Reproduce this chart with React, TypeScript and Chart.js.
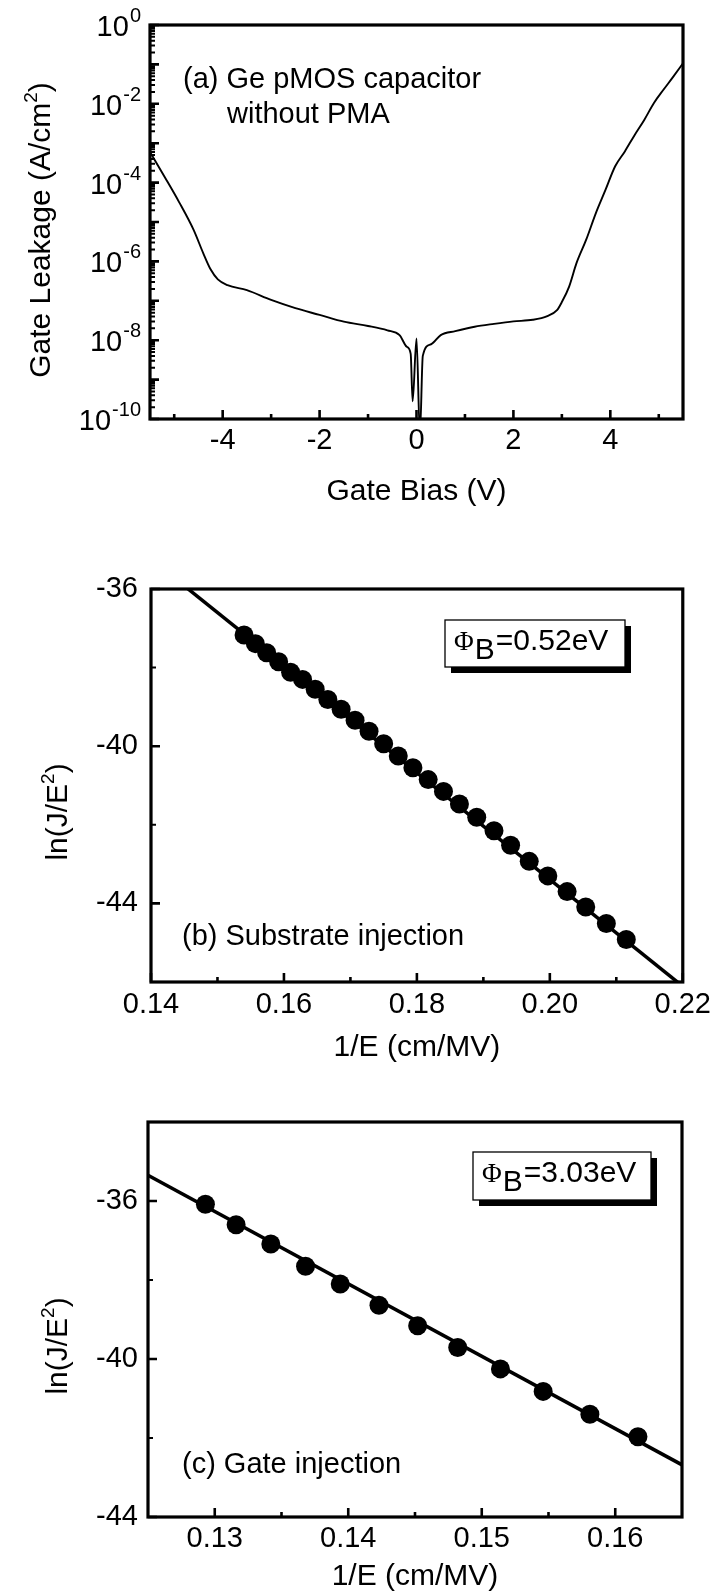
import React, { useEffect, useRef } from 'react';
import { Chart, registerables } from 'chart.js';

Chart.register(...registerables);

const FONT = "'Liberation Sans', Arial, Helvetica, sans-serif";
const SERIF = "'Liberation Serif', 'Times New Roman', serif";

// ---------- Panel (a): gate leakage vs gate bias ----------
const BIAS_V = [
  -5.5, -5.2, -4.9, -4.6, -4.4, -4.25, -4.1, -3.9, -3.5, -3.0, -2.5, -2.0, -1.5, -1.0, -0.6, -0.35,
  -0.2, -0.12, -0.08, 0.0, 0.07, 0.13, 0.3, 0.5, 0.8, 1.2, 1.6, 2.0, 2.4, 2.7, 2.9, 3.0, 3.15,
  3.3, 3.5, 3.7, 3.9, 4.1, 4.3, 4.5, 4.7, 4.9, 5.1, 5.3, 5.5,
];
const LEAKAGE = [
  6.0e-4, 1.41e-4, 3.2e-5, 6.3e-6, 1.6e-6, 6.3e-7, 3.5e-7, 2.5e-7, 1.86e-7, 1.05e-7, 6.5e-8, 4.4e-8,
  2.95e-8, 2.3e-8, 1.78e-8, 1.35e-8, 6.8e-9, 4.5e-9, 2.8e-10, 1.1e-8, 4.0e-11, 4.0e-9, 7.9e-9,
  1.35e-8, 1.7e-8, 2.2e-8, 2.6e-8, 3.0e-8, 3.3e-8, 4.1e-8, 5.8e-8, 9.3e-8, 2.3e-7, 8.9e-7, 3.5e-6,
  1.66e-5, 6.5e-5, 2.6e-4, 6.2e-4, 1.6e-3, 3.9e-3, 1.05e-2, 2.3e-2, 4.9e-2, 1.07e-1,
];
const BIAS_TICKS = [-4, -2, 0, 2, 4];
const BIAS_MINOR = [-5, -3, -1, 1, 3, 5];
const LEAK_DECADES = [-10, -9, -8, -7, -6, -5, -4, -3, -2, -1, 0];
const LEAK_LABEL_EXPS = [-10, -8, -6, -4, -2, 0];

// ---------- Panel (b): substrate injection ----------
const INV_E_SUB = [
  0.154, 0.1557, 0.1574, 0.1592, 0.161, 0.1628, 0.1647, 0.1666, 0.1686, 0.1707, 0.1728, 0.175,
  0.1772, 0.1794, 0.1817, 0.184, 0.1864, 0.189, 0.1916, 0.1941, 0.1969, 0.1997, 0.2026, 0.2054,
  0.2085, 0.2115,
];
const LN_JE2_SUB = [
  -37.17, -37.39, -37.62, -37.85, -38.12, -38.3, -38.55, -38.81, -39.06, -39.34, -39.62, -39.94,
  -40.25, -40.55, -40.85, -41.15, -41.47, -41.81, -42.15, -42.52, -42.93, -43.3, -43.7, -44.09,
  -44.51, -44.92,
];
const FIT_SUB_X = [0.14, 0.22];
const FIT_SUB_Y = [-35.24, -46.11];
const SUB_X_TICKS = [0.14, 0.16, 0.18, 0.2, 0.22];
const SUB_X_MINOR = [0.15, 0.17, 0.19, 0.21];
const SUB_Y_TICKS = [-44, -40, -36];
const SUB_Y_MINOR = [-42, -38];
const BARRIER_SUB = '=0.52eV';

// ---------- Panel (c): gate injection ----------
const INV_E_GATE = [0.1293, 0.1316, 0.1342, 0.1368, 0.1394, 0.1423, 0.1452, 0.1482, 0.1514, 0.1546, 0.1581, 0.1617];
const LN_JE2_GATE = [-36.08, -36.6, -37.09, -37.65, -38.1, -38.64, -39.16, -39.71, -40.25, -40.82, -41.4, -41.97];
const FIT_GATE_X = [0.125, 0.165];
const FIT_GATE_Y = [-35.35, -42.68];
const GATE_X_TICKS = [0.13, 0.14, 0.15, 0.16];
const GATE_X_MINOR = [0.135, 0.145, 0.155];
const GATE_Y_TICKS = [-44, -40, -36];
const GATE_Y_MINOR = [-42, -38];
const BARRIER_GATE = '=3.03eV';

type Seg = { t: string; s: number; dy?: number; f?: string };

function segWidth(ctx: CanvasRenderingContext2D, segs: Seg[]) {
  let w = 0;
  for (const sg of segs) {
    ctx.font = `${sg.s}px ${sg.f || FONT}`;
    w += ctx.measureText(sg.t).width;
  }
  return w;
}

function drawRich(ctx: CanvasRenderingContext2D, segs: Seg[], x: number, base: number, align: 'left' | 'center' | 'right') {
  const w = segWidth(ctx, segs);
  let cx = align === 'center' ? x - w / 2 : align === 'right' ? x - w : x;
  ctx.textAlign = 'left';
  ctx.textBaseline = 'alphabetic';
  for (const sg of segs) {
    ctx.font = `${sg.s}px ${sg.f || FONT}`;
    ctx.fillText(sg.t, cx, base + (sg.dy || 0));
    cx += ctx.measureText(sg.t).width;
  }
}

type Decor = {
  xMajor: number[];
  xMinor: number[];
  yMajor: number[];
  yMinor: number[];
  yExpLabels?: number[];
  yTitle: { segs: Seg[]; x: number; y: number };
  texts: { t: string; x: number; base: number; s: number }[];
  legend?: { x: number; y: number; w: number; h: number; text: string };
};

function makeDecor(cfg: Decor) {
  return {
    id: 'decor',
    afterDatasetsDraw(chart: any) {
      const { ctx, chartArea: a } = chart;
      const xs = chart.scales.x;
      const ys = chart.scales.y;
      ctx.save();
      ctx.strokeStyle = '#000';
      ctx.fillStyle = '#000';
      ctx.lineCap = 'butt';
      ctx.lineWidth = 2.6;
      const majorLen = 9;
      const minorLen = 5;
      ctx.beginPath();
      cfg.xMajor.forEach((v) => {
        const p = xs.getPixelForValue(v);
        ctx.moveTo(p, a.bottom);
        ctx.lineTo(p, a.bottom - majorLen);
      });
      cfg.xMinor.forEach((v) => {
        const p = xs.getPixelForValue(v);
        ctx.moveTo(p, a.bottom);
        ctx.lineTo(p, a.bottom - minorLen);
      });
      cfg.yMajor.forEach((v) => {
        const p = ys.getPixelForValue(v);
        ctx.moveTo(a.left, p);
        ctx.lineTo(a.left + majorLen, p);
      });
      ctx.stroke();
      ctx.lineWidth = 2;
      ctx.beginPath();
      cfg.yMinor.forEach((v) => {
        const p = ys.getPixelForValue(v);
        ctx.moveTo(a.left, p);
        ctx.lineTo(a.left + minorLen, p);
      });
      ctx.stroke();

      // frame
      ctx.lineWidth = 3.2;
      ctx.strokeRect(a.left, a.top, a.right - a.left, a.bottom - a.top);

      // exponent tick labels (log axis)
      if (cfg.yExpLabels) {
        cfg.yExpLabels.forEach((e) => {
          const p = ys.getPixelForValue(Math.pow(10, e));
          ctx.font = `20px ${FONT}`;
          const ew = ctx.measureText(String(e)).width;
          const right = 141;
          ctx.textAlign = 'left';
          ctx.textBaseline = 'alphabetic';
          ctx.fillText(String(e), right - ew, p - 3);
          ctx.font = `29px ${FONT}`;
          ctx.textAlign = 'right';
          ctx.fillText('10', right - ew - 1, p + 11);
        });
      }

      // y title (rotated)
      ctx.save();
      ctx.translate(cfg.yTitle.x, cfg.yTitle.y);
      ctx.rotate(-Math.PI / 2);
      drawRich(ctx, cfg.yTitle.segs, 0, 11, 'center');
      ctx.restore();

      // annotation texts
      cfg.texts.forEach((tx) => {
        drawRich(ctx, [{ t: tx.t, s: tx.s }], tx.x, tx.base, 'left');
      });

      // legend box with shadow
      if (cfg.legend) {
        const L = cfg.legend;
        ctx.fillStyle = '#000';
        ctx.fillRect(L.x + 6, L.y + 6, L.w, L.h);
        ctx.fillStyle = '#fff';
        ctx.fillRect(L.x, L.y, L.w, L.h);
        ctx.lineWidth = 1.3;
        ctx.strokeRect(L.x, L.y, L.w, L.h);
        ctx.fillStyle = '#000';
        const base = L.y + 30;
        let x = L.x + 9;
        ctx.textAlign = 'left';
        ctx.textBaseline = 'alphabetic';
        ctx.font = `27px ${SERIF}`;
        ctx.fillText('\u03A6', x, base);
        x += ctx.measureText('\u03A6').width + 1;
        ctx.font = `30px ${FONT}`;
        ctx.fillText('B', x, base + 9);
        x += ctx.measureText('B').width + 1;
        ctx.fillText(L.text, x, base);
      }
      ctx.restore();
    },
  };
}

function baseScale(extra: any) {
  return {
    display: true,
    grid: { display: false, drawTicks: false, tickLength: 0 },
    border: { display: false },
    ...extra,
  };
}

function xAxis(min: number, max: number, ticks: number[], fmt: (v: number) => string, height: number, pad: number, title: string, titlePad: number) {
  return baseScale({
    type: 'linear',
    position: 'bottom',
    min,
    max,
    afterBuildTicks: (s: any) => {
      s.ticks = ticks.map((v) => ({ value: v }));
    },
    afterFit: (s: any) => {
      s.height = height;
    },
    ticks: {
      autoSkip: false,
      maxRotation: 0,
      minRotation: 0,
      padding: pad,
      color: '#000',
      font: { size: 29, family: FONT },
      callback: (v: any) => fmt(Number(v)),
    },
    title: {
      display: true,
      text: title,
      color: '#000',
      font: { size: 30, family: FONT },
      padding: { top: 0, bottom: titlePad },
    },
  });
}

function linYAxis(min: number, max: number, ticks: number[], width: number, pad: number) {
  return baseScale({
    type: 'linear',
    position: 'left',
    min,
    max,
    afterBuildTicks: (s: any) => {
      s.ticks = ticks.map((v) => ({ value: v }));
    },
    afterFit: (s: any) => {
      s.width = width;
    },
    ticks: {
      autoSkip: false,
      padding: pad,
      color: '#000',
      font: { size: 29, family: FONT },
      callback: (v: any) => String(v),
    },
  });
}

const commonOptions = (padTop: number, padRight: number) => ({
  responsive: false,
  maintainAspectRatio: false,
  animation: false,
  devicePixelRatio: 1,
  layout: { padding: { left: 0, top: padTop, right: padRight, bottom: 0 } },
  plugins: { legend: { display: false }, tooltip: { enabled: false } },
  events: [],
});

function configA(): any {
  const minor: number[] = [];
  LEAK_DECADES.slice(0, -1).forEach((d) => {
    for (let k = 2; k <= 9; k++) minor.push(k * Math.pow(10, d));
  });
  return {
    type: 'scatter',
    data: {
      datasets: [
        {
          data: BIAS_V.map((x, i) => ({ x, y: LEAKAGE[i] })),
          showLine: true,
          pointRadius: 0,
          borderColor: '#000',
          borderWidth: 1.9,
          cubicInterpolationMode: 'monotone',
        },
      ],
    },
    options: {
      ...commonOptions(25, 34),
      scales: {
        x: xAxis(-5.5, 5.5, BIAS_TICKS, (v) => String(v), 121, 5, 'Gate Bias (V)', 30),
        y: baseScale({
          type: 'logarithmic',
          position: 'left',
          min: 1e-10,
          max: 1,
          afterFit: (s: any) => {
            s.width = 150;
          },
          ticks: { display: false },
        }),
      },
    },
    plugins: [
      makeDecor({
        xMajor: BIAS_TICKS,
        xMinor: BIAS_MINOR,
        yMajor: LEAK_DECADES.map((d) => Math.pow(10, d)),
        yMinor: minor,
        yExpLabels: LEAK_LABEL_EXPS,
        yTitle: {
          segs: [
            { t: 'Gate Leakage (A/cm', s: 30 },
            { t: '2', s: 19, dy: -13 },
            { t: ')', s: 30 },
          ],
          x: 39,
          y: 230,
        },
        texts: [
          { t: '(a) Ge pMOS capacitor', x: 183, base: 88, s: 29 },
          { t: 'without PMA', x: 227, base: 123, s: 29 },
        ],
      }),
    ],
  };
}

function fitConfig(
  xsPts: number[], ysPts: number[], fitX: number[], fitY: number[],
  xMin: number, xMax: number, yMin: number, yMax: number,
  xTicks: number[], xMinor: number[], yTicks: number[], yMinor: number[],
  layout: { top: number; right: number; left: number; xh: number; xpad: number; tpad: number; ypad: number },
  annot: string, annotBase: number, legend: { x: number; y: number; w: number; h: number; text: string },
  titleY: number,
): any {
  return {
    type: 'scatter',
    data: {
      datasets: [
        {
          data: xsPts.map((x, i) => ({ x, y: ysPts[i] })),
          pointRadius: 9.5,
          pointBackgroundColor: '#000',
          pointBorderColor: '#000',
          pointBorderWidth: 0,
          showLine: false,
        },
        {
          data: fitX.map((x, i) => ({ x, y: fitY[i] })),
          showLine: true,
          pointRadius: 0,
          borderColor: '#000',
          borderWidth: 3.5,
        },
      ],
    },
    options: {
      ...commonOptions(layout.top, layout.right),
      scales: {
        x: xAxis(xMin, xMax, xTicks, (v) => v.toFixed(2), layout.xh, layout.xpad, '1/E (cm/MV)', layout.tpad),
        y: linYAxis(yMin, yMax, yTicks, layout.left, layout.ypad),
      },
    },
    plugins: [
      makeDecor({
        xMajor: xTicks,
        xMinor,
        yMajor: yTicks,
        yMinor,
        yTitle: {
          segs: [
            { t: 'ln(J/E', s: 30 },
            { t: '2', s: 19, dy: -13 },
            { t: ')', s: 30 },
          ],
          x: 56,
          y: titleY,
        },
        texts: [{ t: annot, x: 182, base: annotBase, s: 29 }],
        legend,
      }),
    ],
  };
}

function configB(): any {
  return fitConfig(
    INV_E_SUB, LN_JE2_SUB, FIT_SUB_X, FIT_SUB_Y,
    0.14, 0.22, -46, -36,
    SUB_X_TICKS, SUB_X_MINOR, SUB_Y_TICKS, SUB_Y_MINOR,
    { top: 49, right: 34, left: 151, xh: 98, xpad: 6, tpad: 14, ypad: 13 },
    '(b) Substrate injection', 405,
    { x: 445, y: 80, w: 180, h: 47, text: BARRIER_SUB },
    272,
  );
}

function configC(): any {
  return fitConfig(
    INV_E_GATE, LN_JE2_GATE, FIT_GATE_X, FIT_GATE_Y,
    0.125, 0.165, -44, -34,
    GATE_X_TICKS, GATE_X_MINOR, GATE_Y_TICKS, GATE_Y_MINOR,
    { top: 42, right: 35, left: 148, xh: 78, xpad: 5, tpad: 0, ypad: 10 },
    '(c) Gate injection', 393,
    { x: 473, y: 72, w: 178, h: 48, text: BARRIER_GATE },
    266,
  );
}

function Panel({ top, height, make }: { top: number; height: number; make: () => any }) {
  const ref = useRef<HTMLCanvasElement>(null);
  useEffect(() => {
    const chart = new Chart(ref.current as HTMLCanvasElement, make());
    return () => chart.destroy();
  }, []);
  return (
    <canvas
      ref={ref}
      width={717}
      height={height}
      style={{ position: 'absolute', left: 0, top, width: 717, height, display: 'block' }}
    />
  );
}

export default function App() {
  return (
    <div style={{ position: 'absolute', left: 0, top: 0, width: 717, height: 1595, background: '#fff', overflow: 'hidden' }}>
      <Panel top={0} height={540} make={configA} />
      <Panel top={540} height={540} make={configB} />
      <Panel top={1080} height={515} make={configC} />
    </div>
  );
}
